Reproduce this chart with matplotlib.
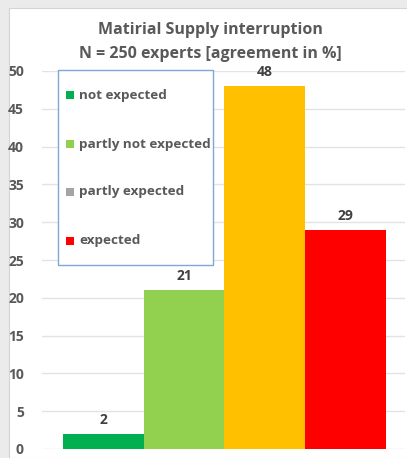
import matplotlib.pyplot as plt
from matplotlib.patches import Rectangle

categories = ["not expected", "partly not expected", "partly expected", "expected"]
values = [2, 21, 48, 29]
bar_colors = ["#00b050", "#92d050", "#ffc000", "#ff0000"]
legend_colors = ["#00b050", "#92d050", "#a5a5a5", "#ff0000"]
yticks = [0, 5, 10, 15, 20, 25, 30, 35, 40, 45, 50]

W, H = 407, 458
fig = plt.figure(figsize=(W / 100, H / 100), dpi=100)
fig.patch.set_facecolor("#ebebeb")
fig.patches.append(Rectangle((9 / W, 0), 1, 1 - 8 / H, transform=fig.transFigure,
                             facecolor="white", edgecolor="#d4d4d4", linewidth=0.8, zorder=-10))

FONT = ["Open Sans", "DejaVu Sans"]
gray = "#595959"

ax = fig.add_axes([42 / W, 1 - 449 / H, (405 - 42) / W, (449 - 71) / H])
ax.set_zorder(1)
ax.set_facecolor("none")
x = list(range(len(values)))
ax.bar(x, values, width=1.0, color=bar_colors, zorder=2)
ax.set_xlim(-0.5 - 21 / 81, 3.5 + 19 / 81)
ax.set_ylim(0, 50)
ax.set_yticks(yticks)
ax.set_yticklabels([str(t) for t in yticks], fontsize=10, fontweight="bold", color=gray, family=FONT)
ax.set_xticks([])
ax.tick_params(axis="y", length=0, pad=13)
ax.grid(axis="y", color="#e3e3e3", linewidth=1.0, zorder=0)
ax.set_axisbelow(True)
for s in ax.spines.values():
    s.set_visible(False)
for xi, v in zip(x, values):
    ax.text(xi, v + 0.9, str(v), ha="center", va="bottom", fontsize=10,
            fontweight="bold", color="#404040", family=FONT)

cx = 0.5 * (9 + 407) / W + 0.006
fig.text(cx, 1 - 30 / H, "Matirial Supply interruption", ha="center", va="center",
         fontsize=11.5, fontweight="bold", color=gray, family=FONT)
fig.text(cx, 1 - 54 / H, "N = 250 experts [agreement in %]", ha="center", va="center",
         fontsize=11.5, fontweight="bold", color=gray, family=FONT)

# legend box
lx0, ly0, lx1, ly1 = 58, 70, 213, 265
fig.patches.append(Rectangle((lx0 / W, 1 - ly1 / H), (lx1 - lx0) / W, (ly1 - ly0) / H,
                             transform=fig.transFigure, facecolor="white",
                             edgecolor="#7fa7d5", linewidth=1.0, zorder=5))
ys = [95, 144, 192, 241]
for c, lab, yy in zip(legend_colors, categories, ys):
    fig.patches.append(Rectangle((66 / W, 1 - (yy + 4) / H), 8 / W, 8 / H,
                                 transform=fig.transFigure, facecolor=c, edgecolor="none", zorder=6))
    fig.text(79 / W, 1 - yy / H, lab, ha="left", va="center", fontsize=9.7,
             fontweight="bold", color=gray, family=FONT, zorder=7)

fig.savefig("out.png", dpi=100, facecolor=fig.get_facecolor())
